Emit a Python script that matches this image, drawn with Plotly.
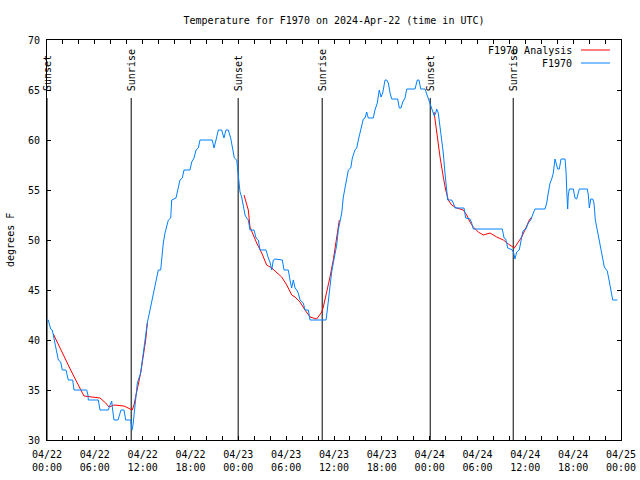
import plotly.graph_objects as go

# ---- data (hours since 2024-04-22 00:00 UTC, temperature degF) ----
obs_hours = [0.0, 0.16, 0.46, 0.66, 0.79, 1.09, 1.29, 1.42, 1.72, 1.92, 2.38, 2.55, 2.67, 3.22, 3.39,
             4.98, 5.14, 5.18, 6.44, 6.65, 7.69, 7.90, 8.12, 8.19, 8.40, 8.91, 9.16, 9.28, 9.66,
             9.87, 10.50, 10.66, 10.79, 11.00, 11.13, 11.33, 11.75, 12.29, 12.58, 12.92, 13.26,
             13.55, 13.76, 13.96, 14.26, 14.39, 14.59, 14.80, 15.01, 15.22, 15.52, 15.64, 16.18,
             16.47, 16.68, 16.97, 17.19, 17.94, 18.15, 18.44, 18.69, 18.98, 19.19, 20.73, 20.95,
             21.20, 21.49, 21.91, 22.20, 22.45, 22.74, 23.04, 23.29, 23.50, 23.80, 23.92, 24.00,
             24.21, 24.42, 24.62, 24.84, 25.05, 25.25, 25.46, 25.97, 26.22, 26.51, 26.72, 27.47,
             27.76, 27.97, 28.19, 28.39, 28.60, 29.52, 29.73, 30.27, 30.48, 30.69, 30.90, 31.11,
             31.32, 31.52, 31.74, 32.15, 32.36, 32.78, 32.99, 35.00, 35.16, 35.37, 35.50, 35.71,
             35.91, 36.13, 36.34, 36.54, 36.75, 36.97, 37.17, 37.38, 37.59, 37.80, 38.10, 38.30,
             38.63, 38.85, 39.05, 39.26, 39.48, 39.68, 39.89, 40.10, 40.30, 40.93, 41.14, 41.43,
             41.68, 41.90, 42.11, 42.40, 42.61, 42.82, 43.03, 43.24, 43.99, 44.19, 44.41, 44.62,
             44.91, 45.12, 46.16, 46.45, 46.66, 46.88, 47.42, 47.75, 47.95, 48.17, 48.33, 48.58,
             48.76, 48.88, 49.08, 49.30, 49.51, 49.71, 49.92, 50.14, 50.26, 50.76, 50.97, 51.18,
             52.31, 52.52, 53.06, 53.27, 53.47, 57.11, 57.33, 57.54, 57.79, 58.37, 58.54, 58.70,
             58.92, 59.24, 59.46, 59.67, 59.83, 60.08, 60.37, 60.68, 61.00, 61.21, 62.47, 62.68,
             62.88, 63.10, 63.31, 63.51, 63.72, 63.93, 64.06, 64.26, 64.48, 64.98, 65.11, 65.19,
             65.31, 65.39, 65.52, 66.02, 66.23, 66.44, 66.65, 66.77, 67.78, 67.90, 68.03, 68.20,
             68.45, 68.61, 68.78, 69.03, 69.28, 69.46, 69.71, 69.91, 70.08, 70.28, 70.50, 70.71,
             70.96, 71.54]
obs_temps = [42.0, 42.0, 41.1, 41.0, 40.5, 39.3, 38.7, 38.0, 37.8, 37.0, 37.0, 36.5, 36.0, 36.0, 35.0,
             35.0, 34.5, 34.0, 34.0, 33.0, 33.0, 33.5, 33.9, 33.3, 32.0, 32.0, 32.7, 33.0, 33.0,
             32.0, 32.0, 31.0, 31.5, 33.0, 34.5, 35.7, 36.7, 40.2, 41.7, 43.0, 44.3,
             45.7, 46.3, 47.0, 47.0, 48.3, 49.7, 50.7, 51.3, 52.0, 52.2, 54.0, 54.2,
             55.3, 56.0, 56.2, 57.0, 57.0, 57.8, 58.2, 59.0, 59.2, 60.0, 60.0, 59.2,
             60.0, 61.0, 61.0, 60.2, 61.0, 61.0, 60.2, 59.2, 58.2, 58.0, 57.0, 56.0,
             54.8, 54.3, 53.3, 52.5, 52.2, 52.0, 51.0, 51.0, 50.2, 50.0, 49.0, 49.0,
             48.2, 47.8, 47.0, 48.0, 48.1, 48.0, 47.0, 47.0, 46.0, 45.2, 46.0, 45.2,
             45.0, 44.7, 44.0, 43.7, 43.0, 43.0, 42.0, 42.0, 43.0, 44.5, 45.7, 46.8,
             47.7, 48.5, 49.5, 51.0, 51.7, 52.7, 54.3, 55.3, 56.3, 57.0, 57.2, 58.2,
             59.0, 59.2, 60.0, 60.8, 61.7, 62.1, 62.2, 62.8, 62.2, 62.2, 63.0, 63.7,
             65.0, 64.3, 64.7, 66.0, 66.0, 65.7, 64.7, 64.1, 64.1, 63.2, 63.2, 63.8,
             64.2, 65.1, 65.1, 66.0, 66.0, 65.1, 65.1, 64.3, 63.7, 63.2, 63.0, 62.4,
             62.7, 63.1, 62.7, 61.3, 60.3, 58.7, 56.7, 55.0, 54.0, 54.0, 53.7, 53.2,
             53.2, 52.2, 52.1, 51.7, 51.1, 51.1, 50.2, 50.1, 49.2, 49.0, 48.7, 48.1,
             48.8, 49.0, 50.0, 50.8, 51.0, 51.1, 51.7, 52.0, 52.7, 53.1, 53.1, 53.7,
             54.7, 55.7, 56.1, 56.7, 58.1, 57.5, 57.1, 57.1, 58.1, 58.1, 56.8, 55.0,
             53.1, 54.5, 55.1, 55.1, 54.2, 54.1, 54.7, 55.1, 55.1, 54.5, 53.2, 54.1,
             54.1, 53.7, 52.0, 51.0, 50.0, 49.3, 48.3, 47.3, 47.1, 46.9, 46.0, 45.0,
             44.0, 44.0]

# analysis series (None separates the three nightly segments)
ana_hours = [0.79, 1.72, 2.97, 3.80, 4.64, 6.65, 7.36, 7.78, 8.40, 9.66, 10.57, 10.70, 10.91,
             11.25, 11.75, 12.38, 12.58, None,
             24.71, 25.25, 25.46, 25.88, 26.30, 26.93, 27.56, 28.19, 28.81, 29.44, 30.07, 30.70,
             31.11, 31.74, 32.36, 32.99, 33.83, 34.46, 34.66, 35.09, 35.50, 35.91, 36.25, 36.67, None,
             48.55, 48.67, 49.01, 49.30, 49.71, 50.01, 50.34, 50.76, 51.39, 52.22, 52.64, 53.06,
             53.47, 54.10, 54.73, 55.57, 56.41, 57.24, 57.87, 58.62, 59.12, 59.54, 59.96, 60.50, 60.80]
ana_temps = [40.6, 39.0, 37.0, 35.7, 34.4, 34.2, 33.7, 33.3, 33.5, 33.4, 33.1, 33.0, 33.5,
             34.7, 36.7, 40.0, 41.7, None,
             54.5, 53.0, 51.3, 50.5, 49.7, 48.7, 47.5, 47.2, 46.8, 46.3, 45.5, 44.5,
             44.3, 43.8, 43.0, 42.3, 42.1, 42.8, 43.3, 44.7, 46.3, 48.0, 49.7, 52.0, None,
             62.8, 62.0, 60.3, 58.3, 56.3, 55.0, 54.0, 53.5, 53.2, 53.0, 52.5, 51.8,
             51.3, 50.8, 50.5, 50.7, 50.3, 50.0, 49.6, 49.2, 49.8, 50.3, 51.0, 52.0, 52.3]

sun_hours = [0.0, 10.56, 23.98, 34.52, 48.07, 58.48]
sun_labels = ["Sunset", "Sunrise", "Sunset", "Sunrise", "Sunset", "Sunrise"]

tick_hours = list(range(0, 73, 2))
label_hours = list(range(0, 73, 6))
tick_labels = ["04/22<br>00:00", "04/22<br>06:00", "04/22<br>12:00", "04/22<br>18:00",
               "04/23<br>00:00", "04/23<br>06:00", "04/23<br>12:00", "04/23<br>18:00",
               "04/24<br>00:00", "04/24<br>06:00", "04/24<br>12:00", "04/24<br>18:00",
               "04/25<br>00:00"]
y_ticks = [30, 35, 40, 45, 50, 55, 60, 65, 70]

RED = "#ff0000"
BLUE = "#0080ff"
FONT = "DejaVu Sans Mono"

label_map = dict(zip(label_hours, tick_labels))
ticktext = [label_map.get(h, "") for h in tick_hours]

fig = go.Figure()
fig.add_trace(go.Scatter(x=ana_hours, y=ana_temps, mode="lines", name="F1970 Analysis",
                         line=dict(color=RED, width=1), connectgaps=False))
fig.add_trace(go.Scatter(x=obs_hours, y=obs_temps, mode="lines", name="F1970",
                         line=dict(color=BLUE, width=1)))

line_top = 64.2
for h, lab in zip(sun_hours, sun_labels):
    fig.add_shape(type="line", x0=h, x1=h, y0=30, y1=line_top, xref="x", yref="y",
                  line=dict(color="black", width=1), layer="below")
    fig.add_annotation(x=h, y=line_top + 0.5, xref="x", yref="y", text=lab, textangle=-90,
                       showarrow=False, xanchor="center", yanchor="bottom",
                       font=dict(family=FONT, size=10, color="black"))

# manual gnuplot-style legend (text left of sample line)
leg = [("F1970 Analysis", RED, 0.975), ("F1970", BLUE, 0.9425)]
for txt, col, yp in leg:
    fig.add_annotation(x=0.9181, y=yp, xref="paper", yref="paper", text=txt, showarrow=False,
                       xanchor="right", yanchor="middle", font=dict(family=FONT, size=10, color="black"))
    fig.add_shape(type="line", x0=0.9303, x1=0.9808, y0=yp, y1=yp, xref="paper", yref="paper",
                  line=dict(color=col, width=1))

fig.add_annotation(x=-0.0645, y=0.5, xref="paper", yref="paper", text="degrees F", textangle=-90,
                   showarrow=False, xanchor="center", yanchor="middle",
                   font=dict(family=FONT, size=10, color="black"))

fig.update_layout(
    width=640, height=480,
    margin=dict(l=47, r=19, t=40, b=40, autoexpand=False),
    paper_bgcolor="white", plot_bgcolor="white",
    showlegend=False,
    title=dict(text="Temperature for F1970 on 2024-Apr-22 (time in UTC)", x=0.5, xref="paper",
               xanchor="center", y=1 - 20 / 480, yref="container", yanchor="middle",
               font=dict(family=FONT, size=10, color="black")),
    font=dict(family=FONT, size=10, color="black"),
)
fig.update_xaxes(range=[0, 72], tickmode="array", tickvals=tick_hours, ticktext=ticktext,
                 ticks="inside", ticklen=4, tickcolor="black", tickwidth=1,
                 showline=True, linecolor="black", linewidth=1, mirror="allticks",
                 showgrid=False, zeroline=False, ticklabelstandoff=5, automargin=False,
                 tickfont=dict(family=FONT, size=10, color="black"))
fig.update_yaxes(range=[30, 70], tickmode="array", tickvals=y_ticks,
                 ticks="inside", ticklen=4, tickcolor="black", tickwidth=1,
                 showline=True, linecolor="black", linewidth=1, mirror="allticks",
                 showgrid=False, zeroline=False, ticklabelstandoff=4, automargin=False,
                 tickfont=dict(family=FONT, size=10, color="black"))

fig.write_html("out.html")
